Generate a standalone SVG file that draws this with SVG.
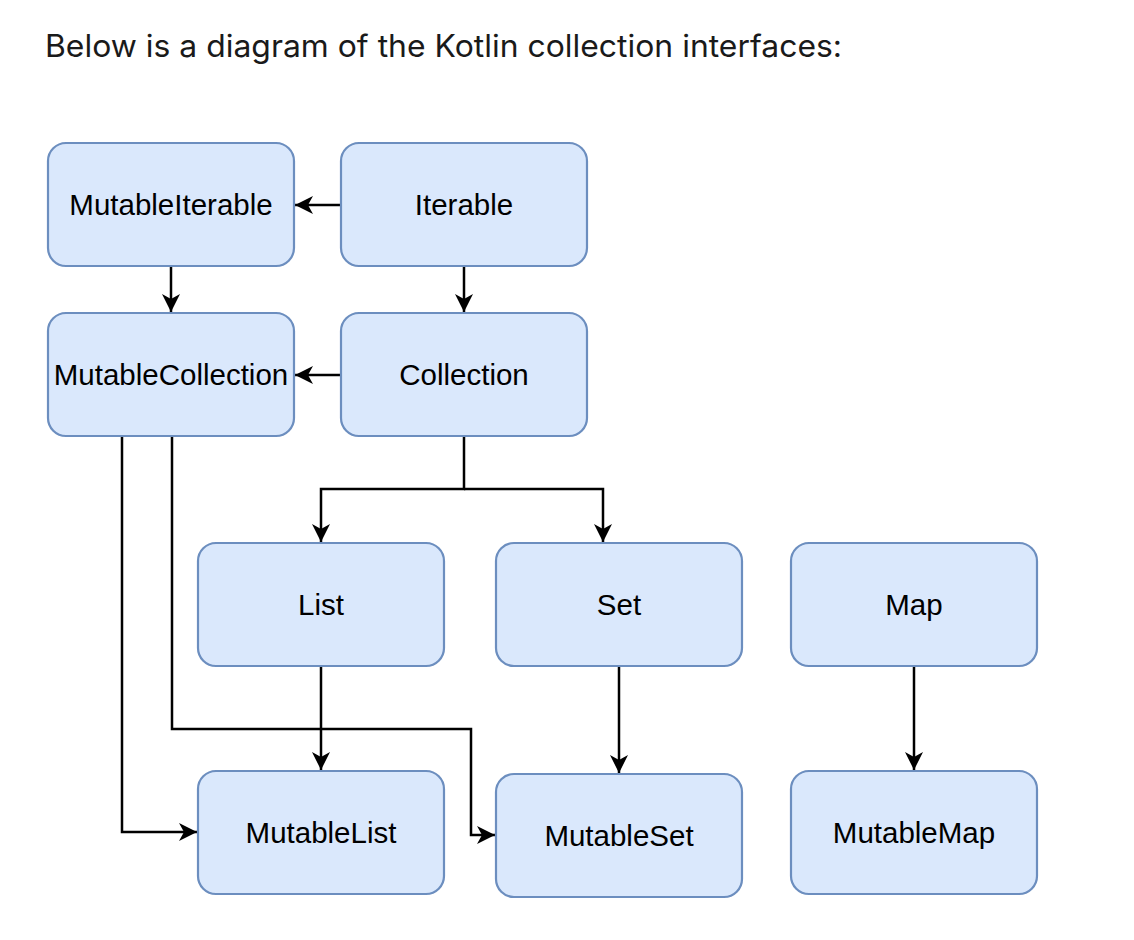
<svg xmlns="http://www.w3.org/2000/svg" width="1134" height="940" viewBox="0 0 1134 940">
<style>
.n rect{fill:#dae8fc;stroke:#6c8ebf;stroke-width:2.2}
.n text{font-family:"Liberation Sans",Arial,sans-serif;font-size:29.5px;fill:#000;text-anchor:middle}
.c path{fill:none;stroke:#000;stroke-width:2.5}
.t{font-family:Inter,"Noto Sans",sans-serif;font-size:31px;fill:#1a1a1a}
</style>
<defs>
<marker id="ah" markerWidth="20" markerHeight="18" refX="18" refY="9" orient="auto" markerUnits="userSpaceOnUse">
<path d="M0,0 L18,9 L0,18 L5,9 Z" fill="#000"/>
</marker>
</defs>
<rect width="1134" height="940" fill="#fff"/>
<text class="t" x="45" y="57" textLength="797" lengthAdjust="spacingAndGlyphs">Below is a diagram of the Kotlin collection interfaces:</text>
<g class="c">
<path d="M341,205 H295" marker-end="url(#ah)"/>
<path d="M171,266 V312" marker-end="url(#ah)"/>
<path d="M464,266 V312" marker-end="url(#ah)"/>
<path d="M341,375 H295" marker-end="url(#ah)"/>
<path d="M464,436 V489 H321 V542" marker-end="url(#ah)"/>
<path d="M464,489 H603 V542" marker-end="url(#ah)"/>
<path d="M321,666 V770" marker-end="url(#ah)"/>
<path d="M619,666 V773" marker-end="url(#ah)"/>
<path d="M914,666 V770" marker-end="url(#ah)"/>
<path d="M122,436 V832 H197" marker-end="url(#ah)"/>
<path d="M172,436 V729 H471 V835 H495" marker-end="url(#ah)"/>
</g>
<g id="mutableiterable" class="n"><rect x="48" y="143" width="246" height="123" rx="18"/><text x="171" y="215">MutableIterable</text></g>
<g id="iterable" class="n"><rect x="341" y="143" width="246" height="123" rx="18"/><text x="464" y="215">Iterable</text></g>
<g id="mutablecollection" class="n"><rect x="48" y="313" width="246" height="123" rx="18"/><text x="171" y="385">MutableCollection</text></g>
<g id="collection" class="n"><rect x="341" y="313" width="246" height="123" rx="18"/><text x="464" y="385">Collection</text></g>
<g id="list" class="n"><rect x="198" y="543" width="246" height="123" rx="18"/><text x="321" y="615">List</text></g>
<g id="set" class="n"><rect x="496" y="543" width="246" height="123" rx="18"/><text x="619" y="615">Set</text></g>
<g id="map" class="n"><rect x="791" y="543" width="246" height="123" rx="18"/><text x="914" y="615">Map</text></g>
<g id="mutablelist" class="n"><rect x="198" y="771" width="246" height="123" rx="18"/><text x="321" y="843">MutableList</text></g>
<g id="mutableset" class="n"><rect x="496" y="774" width="246" height="123" rx="18"/><text x="619" y="846">MutableSet</text></g>
<g id="mutablemap" class="n"><rect x="791" y="771" width="246" height="123" rx="18"/><text x="914" y="843">MutableMap</text></g>
</svg>
